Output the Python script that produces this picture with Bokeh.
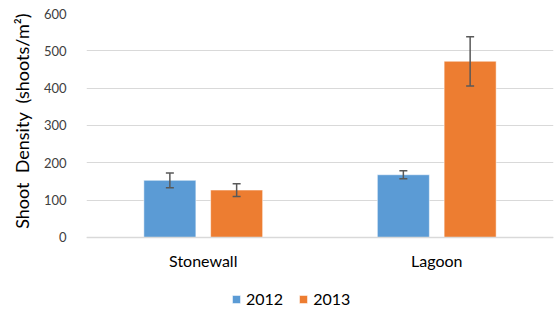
from bokeh.plotting import figure
from bokeh.models import Range1d, ColumnDataSource, Whisker, TeeHead, Legend, LegendItem, FixedTicker, Title
from bokeh.embed import file_html
from bokeh.resources import INLINE

categories = ["Stonewall", "Lagoon"]
years = ["2012", "2013"]
values_2012 = [153, 168]
values_2013 = [127, 472]
err_2012 = [20, 11]
err_2013 = [17, 66]
y_ticks = [0, 100, 200, 300, 400, 500, 600]
y_title = "Shoot\u00a0 Density\u00a0 (shoots/m\u00b2)"

colors = ["#5B9BD5", "#ED7D31"]
FONT = "Lato"

# frame reaches the bottom of the canvas; the value axis starts below 0 so the
# category labels and legend sit inside the frame under the zero line
p = figure(width=555, height=312, output_backend="svg", toolbar_location=None,
           x_range=Range1d(0, len(categories)), y_range=Range1d(-201, 600),
           min_border_left=86, min_border_right=2, min_border_top=13, min_border_bottom=0)
p.outline_line_color = None
p.background_fill_color = "white"

offsets = [-0.143, 0.143]
renderers = []
for i, (vals, errs) in enumerate([(values_2012, err_2012), (values_2013, err_2013)]):
    xs = [k + 0.5 + offsets[i] for k in range(len(categories))]
    src = ColumnDataSource(dict(x=xs, top=vals,
                                upper=[v + e for v, e in zip(vals, errs)],
                                lower=[v - e for v, e in zip(vals, errs)]))
    r = p.vbar(x="x", top="top", bottom=0, width=0.2227, source=src,
               fill_color=colors[i], line_color="white", line_alpha=0.5, line_width=1)
    renderers.append(r)
    w = Whisker(base="x", upper="upper", lower="lower", source=src, level="overlay",
                line_color="#595959", line_width=1.5,
                upper_head=TeeHead(size=8, line_color="#595959", line_width=1.5),
                lower_head=TeeHead(size=8, line_color="#595959", line_width=1.5))
    p.add_layout(w)

# category axis drawn on the zero line
p.xaxis.fixed_location = 0
p.xaxis.ticker = FixedTicker(ticks=[k + 0.5 for k in range(len(categories))])
p.xaxis.major_label_overrides = {k + 0.5: c for k, c in enumerate(categories)}
p.xaxis.major_tick_line_color = None
p.xaxis.minor_tick_line_color = None
p.xaxis.axis_line_color = "#D9D9D9"
p.xaxis.axis_line_width = 1.5
p.xaxis.major_label_text_font = FONT
p.xaxis.major_label_text_font_size = "16px"
p.xaxis.major_label_text_color = "#000000"
p.xaxis.major_label_standoff = 8

p.yaxis.ticker = FixedTicker(ticks=y_ticks)
p.yaxis.axis_line_color = None
p.yaxis.major_tick_line_color = None
p.yaxis.minor_tick_line_color = None
p.yaxis.major_label_text_font = FONT
p.yaxis.major_label_text_font_size = "13px"
p.yaxis.major_label_text_color = "#404040"
p.yaxis.major_label_standoff = 14

title = Title(text=y_title, align="right", vertical_align="bottom", offset=0, standoff=15,
              text_font=FONT, text_font_size="18px", text_font_style="normal",
              text_color="#000000")
p.add_layout(title, "left")

p.xgrid.grid_line_color = None
p.ygrid.grid_line_color = "#D9D9D9"
p.ygrid.grid_line_width = 1

legend = Legend(items=[LegendItem(label=years[i], renderers=[renderers[i]]) for i in range(2)],
                orientation="horizontal", location=(145, 4),
                padding=0, margin=0, spacing=15, label_standoff=5,
                glyph_width=10, glyph_height=10, label_height=16,
                border_line_color=None, background_fill_alpha=0,
                label_text_font=FONT, label_text_font_size="16px", label_text_color="#000000")
p.add_layout(legend, "center")

open("out.html", "w").write(file_html(p, INLINE))
